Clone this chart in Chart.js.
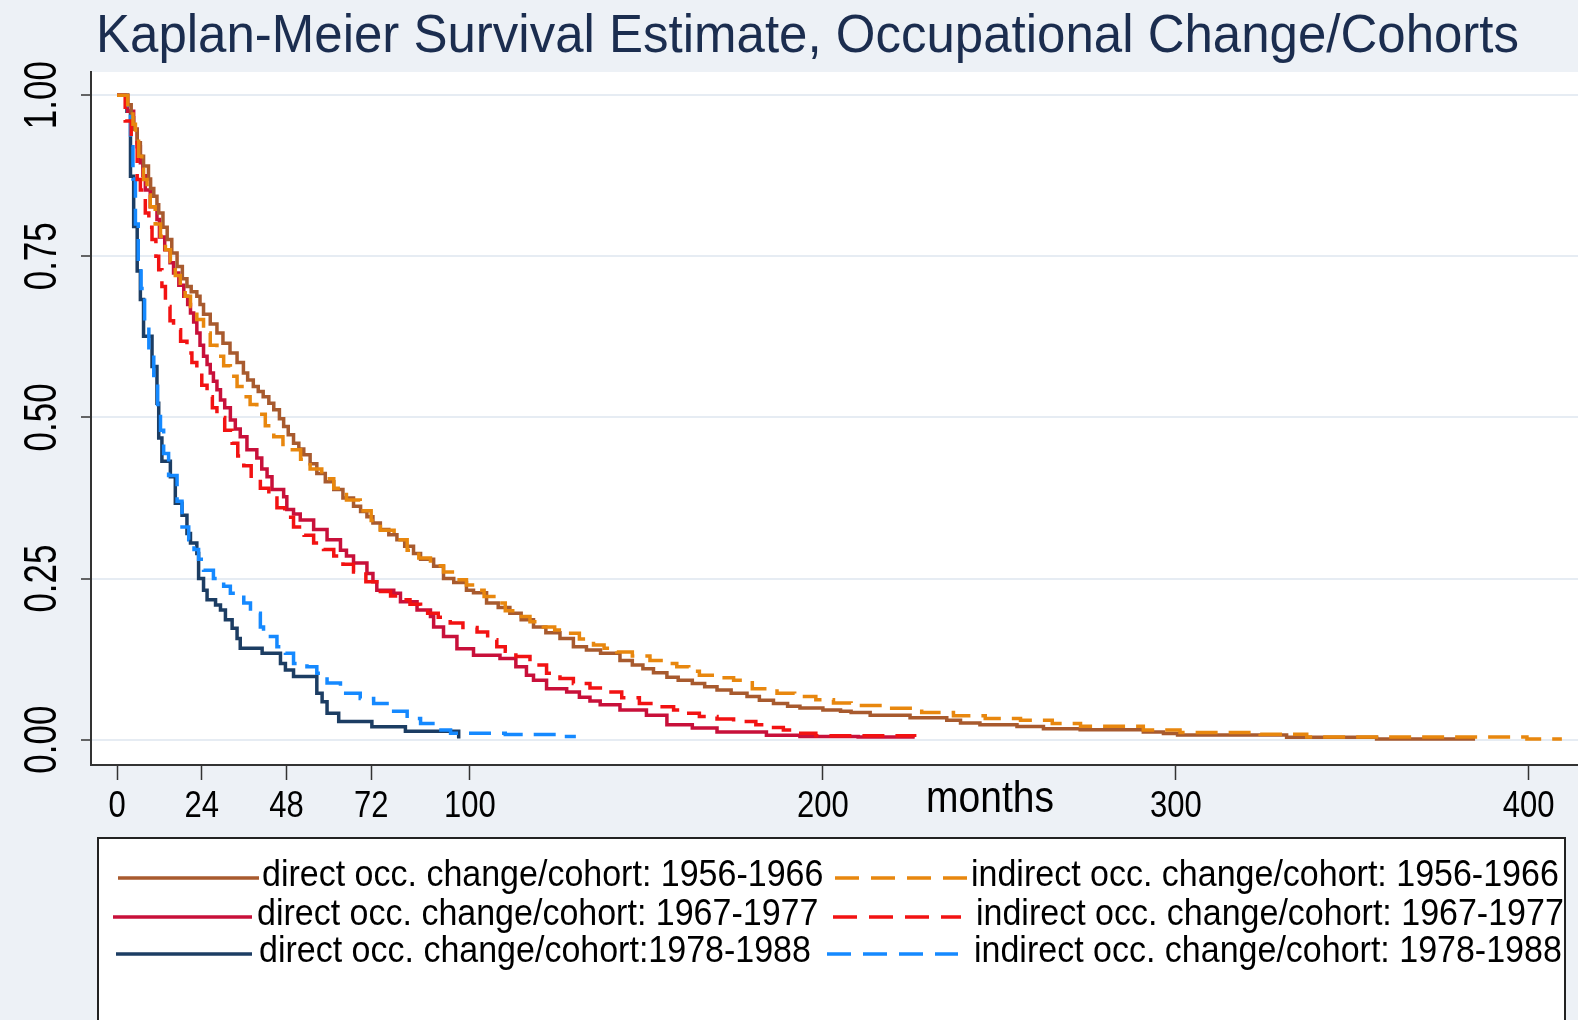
<!DOCTYPE html>
<html>
<head>
<meta charset="utf-8">
<script src="https://cdn.jsdelivr.net/npm/chart.js@4.4.1/dist/chart.umd.min.js"></script>
<style>
  html, body { margin: 0; padding: 0; background: #edf1f6; }
  #wrap { width: 1578px; height: 1020px; position: relative; }
</style>
</head>
<body>
<div id="wrap"><canvas id="km"></canvas></div>
<script>
// ── 데이터: [months, survival] ──

const xTicks = [0, 24, 48, 72, 100, 200, 300, 400];
const yTicks = [0, 0.25, 0.5, 0.75, 1];
const yTickLabels = ['0.00', '0.25', '0.50', '0.75', '1.00'];

const titleText = 'Kaplan-Meier Survival Estimate, Occupational Change/Cohorts';
const xTitle = 'months';

const labels = [
  'direct occ. change/cohort: 1956-1966',
  'indirect occ. change/cohort: 1956-1966',
  'direct occ. change/cohort: 1967-1977',
  'indirect occ. change/cohort: 1967-1977',
  'direct occ. change/cohort:1978-1988',
  'indirect occ. change/cohort: 1978-1988'
];

const direct1956 = [[0,1],[3,0.985],[4,0.965],[4.7,0.947],[5.7,0.926],[6.6,0.905],[7.5,0.89],[8.9,0.87],[9.5,0.855],[10.4,0.843],[11.3,0.83],[11.8,0.817],[13,0.795],[14.2,0.776],[15.5,0.755],[17,0.734],[18.5,0.715],[19.8,0.703],[21,0.695],[22.6,0.688],[23.5,0.675],[24.5,0.66],[26.4,0.645],[28.3,0.631],[30,0.615],[32,0.6],[34,0.585],[35.8,0.569],[37,0.558],[38.6,0.548],[40,0.54],[41.4,0.532],[43,0.522],[44.4,0.512],[46,0.498],[47.2,0.486],[48.5,0.473],[50,0.46],[51.5,0.451],[52.9,0.442],[54.7,0.428],[56.6,0.413],[59,0.4],[61.4,0.388],[64,0.375],[67,0.362],[69,0.354],[70.8,0.346],[72.5,0.336],[74.6,0.326],[77,0.318],[79.3,0.31],[81.5,0.3],[84,0.289],[86,0.28],[89.7,0.269],[92.5,0.25],[95.4,0.244],[99,0.232],[101,0.228],[104.7,0.212],[108,0.205],[111.3,0.196],[114.5,0.186],[118,0.175],[121.5,0.166],[125.5,0.157],[129.3,0.144],[133,0.139],[137,0.134],[142.5,0.123],[146,0.116],[149,0.11],[152,0.104],[155.8,0.097],[159,0.092],[163,0.087],[166.5,0.082],[170,0.077],[174,0.072],[178.5,0.067],[182,0.061],[186,0.056],[190,0.052],[193.5,0.049],[200,0.046],[205,0.044],[208,0.042],[213.4,0.038],[224.7,0.034],[235.1,0.03],[239,0.026],[244.5,0.023],[255,0.0204],[262.5,0.0171],[272.9,0.0155],[290.8,0.012],[296.5,0.0095],[300.5,0.0072],[331.4,0.0036],[356.9,0.001],[384.8,0.001]];

const indirect1956 = [[0,1],[3,0.98],[4.5,0.955],[5.2,0.935],[6.1,0.905],[7,0.885],[7.5,0.869],[8.5,0.845],[9.4,0.827],[10.8,0.8],[12.3,0.781],[13.7,0.76],[15.1,0.742],[16.5,0.72],[17.9,0.703],[19.3,0.688],[20.8,0.672],[22.6,0.652],[24.5,0.631],[26.4,0.612],[28.3,0.595],[30.2,0.58],[32.1,0.564],[34,0.548],[35.9,0.532],[37.7,0.52],[39.6,0.505],[42,0.487],[44.4,0.47],[47,0.458],[49,0.45],[52,0.435],[54.7,0.42],[58,0.405],[61.4,0.39],[65,0.372],[68.9,0.355],[72,0.34],[74.6,0.325],[78.5,0.31],[82.2,0.294],[85.5,0.282],[88.8,0.27],[92.5,0.26],[96.3,0.248],[99,0.24],[102,0.232],[104,0.222],[107.6,0.212],[110,0.2],[113,0.191],[117,0.183],[120.8,0.175],[124,0.17],[127.4,0.165],[131,0.156],[135,0.147],[138,0.142],[141.6,0.136],[146,0.13],[151,0.123],[155,0.118],[158.6,0.113],[162,0.106],[165,0.1],[170,0.096],[174.7,0.092],[180,0.079],[187,0.072],[192,0.067],[198,0.062],[203,0.057],[208,0.053],[218,0.0487],[228,0.042],[237,0.037],[246,0.033],[256,0.03],[265,0.025],[273,0.021],[290.8,0.015],[301.2,0.011],[323.9,0.0085],[337.1,0.004],[399.5,0.001],[409.4,0.001]];

const direct1967 = [[0,1],[3,0.975],[4.7,0.947],[5.7,0.92],[6.6,0.895],[7.3,0.875],[8,0.853],[9.4,0.827],[11.3,0.807],[12,0.78],[13.5,0.76],[15,0.74],[16,0.724],[17.5,0.705],[18.9,0.688],[20,0.675],[20.8,0.662],[21.7,0.648],[22.6,0.631],[23.5,0.612],[24.5,0.595],[25.5,0.582],[26.4,0.569],[27.3,0.556],[28.3,0.543],[29.3,0.527],[30.5,0.515],[32.1,0.496],[33.5,0.482],[34.9,0.47],[36.8,0.45],[39.6,0.437],[41,0.42],[42.5,0.408],[43.9,0.388],[47.2,0.377],[48.1,0.357],[50,0.35],[51.9,0.341],[55.7,0.326],[59.5,0.31],[63.3,0.294],[65,0.285],[67,0.274],[70.8,0.258],[72.5,0.245],[73.6,0.232],[78.4,0.227],[80.3,0.214],[85,0.201],[88.8,0.191],[89.7,0.175],[92.5,0.16],[96.3,0.141],[101,0.131],[108.5,0.126],[113,0.113],[116,0.1],[118,0.092],[121.7,0.079],[127.4,0.074],[131,0.066],[134,0.06],[136.9,0.054],[142.5,0.046],[150,0.038],[155.8,0.023],[163,0.018],[170,0.012],[184,0.007],[193.5,0.005],[210,0.004],[226,0.004]];

const indirect1967 = [[0,1],[2.3,0.96],[4,0.93],[5.7,0.869],[6.6,0.853],[8,0.817],[9,0.795],[9.9,0.776],[11,0.75],[11.8,0.729],[12.7,0.703],[13.7,0.672],[15,0.65],[16,0.636],[18,0.618],[19.8,0.6],[21.2,0.585],[22.6,0.569],[24,0.55],[25.5,0.532],[27,0.515],[28.3,0.5],[30.5,0.48],[32.6,0.46],[34.2,0.44],[35.9,0.425],[38,0.405],[40.6,0.39],[43,0.375],[45.3,0.36],[47.5,0.345],[50,0.33],[53,0.317],[55.7,0.305],[58.5,0.295],[61.4,0.285],[64,0.272],[67,0.26],[70.5,0.245],[74.6,0.23],[77.5,0.223],[80.3,0.217],[83,0.21],[86,0.204],[88,0.196],[91,0.19],[94.4,0.181],[98,0.174],[102,0.167],[105,0.155],[107.6,0.144],[110,0.137],[113,0.129],[117,0.116],[121.7,0.103],[125.5,0.095],[129.3,0.087],[134,0.08],[138.7,0.074],[143,0.065],[148,0.056],[152,0.051],[157.7,0.046],[161,0.041],[165,0.036],[170,0.032],[174.7,0.028],[181,0.023],[185,0.019],[188.8,0.015],[193,0.01],[198,0.006],[226,0.004]];

const direct1978 = [[0,1],[2.8,0.975],[3.8,0.874],[4.7,0.796],[5.7,0.727],[6.6,0.683],[7.5,0.626],[9.9,0.579],[11.3,0.522],[11.8,0.468],[12.7,0.432],[15.1,0.408],[16.5,0.367],[18.4,0.348],[19.8,0.32],[20.8,0.305],[22.6,0.289],[23.1,0.25],[24.5,0.232],[25.5,0.217],[27.9,0.209],[29.3,0.201],[30.7,0.186],[32.6,0.173],[34,0.157],[34.9,0.142],[41.1,0.134],[46.3,0.118],[47.7,0.108],[50,0.098],[56.6,0.072],[58.1,0.059],[59.5,0.041],[62.8,0.028],[72.2,0.02],[81.7,0.013],[96.8,0.002]];

const indirect1978 = [[0,1],[2.8,0.97],[3.8,0.92],[4.5,0.87],[5.2,0.8],[6,0.74],[6.8,0.7],[7.8,0.65],[9,0.6],[10.4,0.565],[11.5,0.52],[12.3,0.48],[13.2,0.444],[14.6,0.41],[17,0.37],[18.4,0.33],[20.3,0.31],[21.8,0.295],[23.1,0.28],[24.5,0.263],[27.3,0.25],[30.2,0.238],[32.1,0.227],[35.9,0.212],[37.8,0.196],[40.6,0.175],[41.5,0.16],[45.3,0.144],[47.7,0.134],[50,0.118],[53.8,0.113],[56.6,0.103],[59.5,0.088],[63.3,0.072],[68.9,0.064],[72.7,0.056],[76.5,0.044],[82.2,0.033],[86,0.025],[90.7,0.015],[94.5,0.01],[110,0.008],[125,0.005],[130,0.005]];

const seriesData = [direct1956, indirect1956, direct1967, indirect1967, direct1978, indirect1978];
const seriesColors = ['#a85a2e', '#e8870e', '#c8103a', '#f21212', '#1c3d63', '#1589ff'];
const seriesDashed = [false, true, false, true, false, true];

const FONT = '"Liberation Sans", Arial, sans-serif';
const BG = '#edf1f6';

// 글자를 세로로 늘려서 그림 (원본 글꼴이 좁고 높음)
function tallText(ctx, text, x, y, sy) {
  ctx.save();
  ctx.translate(x, y);
  ctx.scale(1, sy);
  ctx.fillText(text, 0, 0);
  ctx.restore();
}

// ── 배경, 제목, 세로 눈금 라벨, 범례 ──
const decorPlugin = {
  id: 'decor',
  beforeDraw(chart) {
    const { ctx, chartArea: a } = chart;
    ctx.save();
    ctx.fillStyle = BG;
    ctx.fillRect(0, 0, chart.width, chart.height);
    ctx.fillStyle = '#ffffff';
    ctx.fillRect(a.left, a.top, a.right - a.left, a.bottom - a.top);
    ctx.restore();
  },
  afterDraw(chart) {
    const { ctx } = chart;
    const xs = chart.scales.x;
    const ys = chart.scales.y;
    ctx.save();

    // 제목
    ctx.fillStyle = '#1b2d4f';
    ctx.font = '51px ' + FONT;
    ctx.textAlign = 'left';
    ctx.textBaseline = 'alphabetic';
    tallText(ctx, titleText, 96, 52, 1.05);

    // y 눈금 라벨 (회전)
    ctx.fillStyle = '#000';
    ctx.font = '35px ' + FONT;
    ctx.textAlign = 'center';
    ctx.textBaseline = 'middle';
    yTicks.forEach((v, i) => {
      ctx.save();
      ctx.translate(43, ys.getPixelForValue(v));
      ctx.rotate(-Math.PI / 2);
      ctx.scale(1, 1.3);
      ctx.fillText(yTickLabels[i], 0, 0);
      ctx.restore();
    });

    // x 눈금 라벨
    ctx.font = '31px ' + FONT;
    ctx.textAlign = 'center';
    ctx.textBaseline = 'alphabetic';
    xTicks.forEach(v => {
      tallText(ctx, String(v), xs.getPixelForValue(v), 817, 1.2);
    });

    // x 축 제목
    ctx.font = '39px ' + FONT;
    tallText(ctx, xTitle, 990, 812, 1.15);

    // 범례 상자
    const box = { l: 98, t: 838, r: 1565, b: 1030 };
    ctx.fillStyle = '#ffffff';
    ctx.fillRect(box.l, box.t, box.r - box.l, box.b - box.t);
    ctx.strokeStyle = '#222';
    ctx.lineWidth = 2;
    ctx.strokeRect(box.l, box.t, box.r - box.l, box.b - box.t);

    ctx.beginPath();
    ctx.rect(box.l + 1, box.t + 1, box.r - box.l - 2, box.b - box.t - 2);
    ctx.clip();

    const rows = [
      { y: 878, left: [118, 259, 262], right: [835, 968, 971] },
      { y: 917, left: [113, 252, 257], right: [833, 961, 976] },
      { y: 954, left: [116, 252, 259], right: [827, 958, 974] }
    ];
    ctx.font = '34px ' + FONT;
    ctx.textAlign = 'left';
    rows.forEach((row, r) => {
      [row.left, row.right].forEach((pos, c) => {
        const k = r * 2 + c;
        ctx.strokeStyle = seriesColors[k];
        ctx.lineWidth = 3.5;
        ctx.setLineDash(seriesDashed[k] ? [24, 12] : []);
        ctx.beginPath();
        ctx.moveTo(pos[0], row.y);
        ctx.lineTo(pos[1], row.y);
        ctx.stroke();
        ctx.setLineDash([]);
        ctx.fillStyle = '#000';
        tallText(ctx, labels[k], pos[2], row.y + 8, 1.1);
      });
    });
    ctx.restore();
  }
};

const datasets = seriesData.map((pts, i) => ({
  label: labels[i],
  data: pts.map(p => ({ x: p[0], y: p[1] })),
  borderColor: seriesColors[i],
  borderWidth: 3.5,
  borderDash: seriesDashed[i] ? [22, 11] : [],
  stepped: true,
  pointRadius: 0,
  fill: false,
  order: seriesDashed[i] ? 0 : 1
}));

new Chart(document.getElementById('km'), {
  type: 'line',
  data: { datasets },
  options: {
    responsive: true,
    maintainAspectRatio: false,
    animation: false,
    devicePixelRatio: 1,
    layout: { padding: { top: 72, right: 0, bottom: 195, left: 0 } },
    plugins: {
      legend: { display: false },
      tooltip: { enabled: false }
    },
    scales: {
      x: {
        type: 'linear',
        min: -7.39,
        max: 413.97,
        afterBuildTicks: s => { s.ticks = xTicks.map(v => ({ value: v })); },
        afterFit: s => { s.height = 60; },
        grid: { drawOnChartArea: false, drawTicks: true, tickLength: 15, tickColor: '#333', tickWidth: 1.5 },
        border: { display: true, color: '#333', width: 2 },
        ticks: { display: false }
      },
      y: {
        type: 'linear',
        min: -0.0393,
        max: 1.0359,
        afterBuildTicks: s => { s.ticks = yTicks.map(v => ({ value: v })); },
        afterFit: s => { s.width = 91; },
        grid: { color: '#e6ecf3', lineWidth: 2, drawTicks: true, tickLength: 10, tickColor: '#333', tickWidth: 1.5 },
        border: { display: true, color: '#333', width: 2 },
        ticks: { display: false }
      }
    }
  },
  plugins: [decorPlugin]
});
</script>
</body>
</html>
